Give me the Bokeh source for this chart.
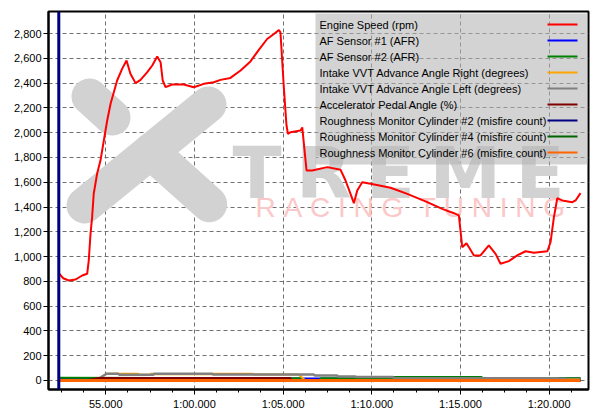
from bokeh.plotting import figure
from bokeh.models import Range1d, FixedTicker, NumeralTickFormatter, Span
from bokeh.core.properties import value
from bokeh.embed import file_html
from bokeh.resources import INLINE

# ---------------- data (time in seconds) ----------------
engine_t = [52.35, 52.6, 52.91, 53.3, 53.67, 53.95, 54.04, 54.14, 54.23, 54.32, 54.51,
            54.70, 54.89, 55.08, 55.27, 55.64, 55.92, 56.17, 56.39, 56.68, 56.96, 57.34,
            57.62, 57.90, 58.09, 58.21, 58.37, 58.74, 59.40, 59.96, 60.53, 61.09, 61.47,
            62.03, 62.60, 63.16, 63.63, 64.10, 64.48, 64.76, 64.85, 65.04, 65.17, 65.19,
            65.27, 65.42, 65.98, 66.08, 66.17, 66.32, 66.64, 67.49, 68.24, 68.52, 68.80,
            68.99, 69.18, 69.46, 69.93, 71.06, 72.00, 73.13, 73.97, 74.63, 74.91, 75.10,
            75.34, 75.76, 76.13, 76.60, 76.98, 77.26, 77.73, 78.20, 78.67, 79.14, 79.90,
            80.08, 80.27, 80.46, 80.74, 81.31, 81.49, 81.77]
engine_rpm = [866, 825, 807, 815, 847, 861, 968, 1184, 1318, 1507, 1668,
              1775, 1937, 2098, 2233, 2421, 2515, 2582, 2475, 2400, 2426, 2488,
              2542, 2615, 2569, 2421, 2367, 2389, 2389, 2367, 2394, 2407, 2426,
              2442, 2502, 2575, 2668, 2756, 2797, 2829, 2810, 2367, 2098, 2060,
              1991, 2004, 2018, 2042, 1912, 1695, 1695, 1722, 1700, 1614, 1506,
              1431, 1533, 1600, 1587, 1555, 1506, 1439, 1385, 1350, 1332, 1076,
              1108, 1009, 1009, 1090, 1022, 942, 963, 1009, 1043, 1030, 1043,
              1116, 1318, 1471, 1453, 1439, 1453, 1512]

af1_t = [52.35, 81.77]
af1_v = [16, 16]

af2_t = [52.35, 66.10, 66.12, 67.10, 67.12, 71.20, 71.22, 76.20, 76.22, 81.77]
af2_v = [22, 18, 0, 0, 18, 18, 27, 27, 18, 18]

vvt_right_t = [52.35, 54.45, 55.04, 56.84, 56.87, 57.52, 57.55, 57.69, 57.72, 61.0,
               61.03, 63.3, 63.33, 65.87, 66.26, 80.5, 80.55, 81.66, 81.77]
vvt_right_v = [0, 0, 54, 54, 46, 46, 54, 54, 50, 50, 54, 54, 48, 48, 0, 0, 10, 10, 0]

vvt_left_t = [52.35, 54.45, 55.04, 55.72, 55.75, 57.69, 57.72, 61.0, 61.05, 66.73,
              66.78, 68.05, 68.1, 69.08, 69.13, 71.2, 71.25, 80.5, 80.55, 80.93,
              80.97, 81.77]
vvt_left_v = [0, 0, 54, 54, 46, 46, 54, 54, 48, 48, 40, 40, 32, 32, 27, 27, 18, 18,
              14, 14, 5, 5]

pedal_t = [52.35, 53.9, 54.6, 65.42, 65.45, 81.77]
pedal_v = [0, 0, 19, 19, 0, 0]

rough2_t = [52.35, 81.77]
rough2_v = [0, 0]
rough4_t = [52.35, 81.77]
rough4_v = [0, 0]
rough6_t = [52.35, 81.77]
rough6_v = [0, 0]

cursor_time = 52.35

series_names = ["Engine Speed (rpm)", "AF Sensor #1 (AFR)", "AF Sensor #2 (AFR)",
                "Intake VVT Advance Angle Right (degrees)",
                "Intake VVT Advance Angle Left (degrees)",
                "Accelerator Pedal Angle (%)",
                "Roughness Monitor Cylinder #2 (misfire count)",
                "Roughness Monitor Cylinder #4 (misfire count)",
                "Roughness Monitor Cylinder #6 (misfire count)"]
series_colors = ["#ff0000", "#0000ff", "#008000", "#ffa500", "#808080",
                 "#800000", "#000080", "#006400", "#ff6600"]

x_tick_values = [55, 60, 65, 70, 75, 80]
x_tick_labels = ["55.000", "1:00.000", "1:05.000", "1:10.000", "1:15.000", "1:20.000"]
y_tick_values = [0, 200, 400, 600, 800, 1000, 1200, 1400, 1600, 1800, 2000,
                 2200, 2400, 2600, 2800]

# ---------------- layout constants ----------------
X_MIN, X_MAX = 51.77, 82.22
Y_MIN, Y_MAX = -73, 2978
FRAME_L, FRAME_T, FRAME_W, FRAME_H = 48, 11, 540, 378  # page pixels


def dx(px):
    return X_MIN + (px - FRAME_L) * (X_MAX - X_MIN) / FRAME_W


def dy(py):
    return Y_MAX - (py - FRAME_T) * (Y_MAX - Y_MIN) / FRAME_H


p = figure(width=592, height=413, output_backend="svg", toolbar_location=None,
           x_range=Range1d(X_MIN, X_MAX), y_range=Range1d(Y_MIN, Y_MAX),
           min_border_left=48, min_border_right=4, min_border_top=11,
           min_border_bottom=24)
p.background_fill_color = "white"
p.border_fill_color = "white"
p.outline_line_color = "black"
p.outline_line_width = 2

# ---------------- watermark ----------------
wm_gray = "#d2d2d2"
NB = "\u00a0"
THIN = "\u2009"
p.segment(x0=[dx(84), dx(89), dx(150)], y0=[dy(205), dy(96), dy(151)],
          x1=[dx(208), dx(112), dx(208.7)], y1=[dy(104), dy(117), dy(203.7)],
          line_color=wm_gray, line_width=36, line_cap="round")
p.text(x=[dx(232)], y=[dy(172)], text=[THIN.join("TREME")], text_color=wm_gray,
       text_font=value("DejaVu Sans"), text_font_style="bold",
       text_font_size="72px", text_baseline="alphabetic", text_align="left")
p.text(x=[dx(255)], y=[dy(207)],
       text=[NB.join("RACING") + NB * 2 + NB.join("TUNING")],
       text_color="#fac8c8", text_font=value("Liberation Sans"),
       text_font_size="28px", text_baseline="alphabetic", text_align="left")

# ---------------- series ----------------
all_t = [engine_t, af1_t, af2_t, vvt_right_t, vvt_left_t, pedal_t, rough2_t, rough4_t, rough6_t]
all_v = [engine_rpm, af1_v, af2_v, vvt_right_v, vvt_left_v, pedal_v, rough2_v, rough4_v, rough6_v]
widths = [2, 2, 2, 2, 2.5, 2, 2, 2, 3]
for t, v, c, w in zip(all_t, all_v, series_colors, widths):
    p.line(t, v, line_color=c, line_width=w)

p.add_layout(Span(location=cursor_time, dimension="height", line_color="#000080",
                  line_width=3))

# ---------------- axes & grid ----------------
p.xaxis.ticker = FixedTicker(ticks=x_tick_values,
                             minor_ticks=[52.5 + 1.25 * k for k in range(24)])
p.xaxis.major_label_overrides = {v: l for v, l in zip(x_tick_values, x_tick_labels)}
p.yaxis.ticker = FixedTicker(ticks=y_tick_values, minor_ticks=[])
p.yaxis.formatter = NumeralTickFormatter(format="0,0")

for ax in (p.xaxis[0], p.yaxis[0]):
    ax.axis_line_color = "black"
    ax.axis_line_width = 2
    ax.major_tick_in = 0
    ax.major_tick_out = 5
    ax.minor_tick_in = 0
    ax.minor_tick_out = 3
    ax.major_tick_line_color = "black"
    ax.minor_tick_line_color = "black"
    ax.major_label_text_font = "Liberation Sans"
    ax.major_label_text_font_size = "11px"
    ax.major_label_text_color = "black"
p.xaxis.major_label_standoff = 3
p.yaxis.major_label_standoff = 2

p.grid.grid_line_color = "#707070"
p.grid.grid_line_dash = "4 3"
p.grid.grid_line_width = 1

# ---------------- legend (labels left, line samples right) ----------------
p.quad(left=[dx(315)], right=[dx(587)], top=[dy(13)], bottom=[dy(164)],
       fill_color="#b2b2b2", fill_alpha=0.57, line_color=None)
row_y = [dy(24 + 16 * i) for i in range(len(series_names))]
p.text(x=[dx(319)] * len(series_names), y=row_y, text=series_names,
       text_color="black", text_font=value("Liberation Sans"),
       text_font_size="11px", text_baseline="middle", text_align="left")
p.segment(x0=[dx(547)] * len(series_names), y0=row_y,
          x1=[dx(577)] * len(series_names), y1=row_y,
          line_color=series_colors, line_width=2)

open("out.html", "w").write(file_html(p, INLINE))
